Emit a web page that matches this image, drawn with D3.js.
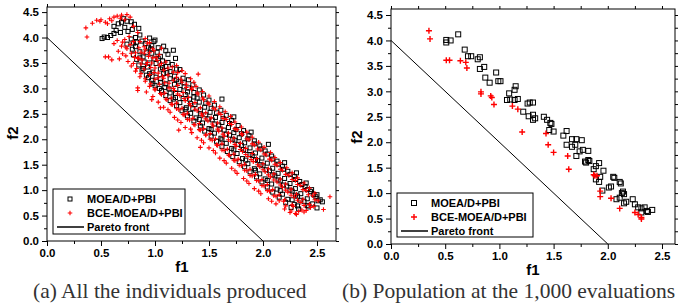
<!DOCTYPE html>
<html>
<head>
<meta charset="utf-8">
<script src="https://cdn.jsdelivr.net/npm/d3@7"></script>
<style>
  body { margin: 0; background: #fff; }
  svg { display: block; }
  .tick text { font-family: "Liberation Sans", Arial, sans-serif; font-weight: bold; font-size: 11.5px; fill: #000; }
  .lbl { font-family: "Liberation Sans", Arial, sans-serif; font-weight: bold; }
  .cap { font-family: "Liberation Serif", "Times New Roman", serif; font-size: 21.5px; fill: #333; }
</style>
</head>
<body>
<svg id="chart"></svg>
<script>
const xMajor = [0, 0.5, 1.0, 1.5, 2.0, 2.5];
const xMinor = [0.25, 0.75, 1.25, 1.75, 2.25];
const yMajor = [0, 0.5, 1.0, 1.5, 2.0, 2.5, 3.0, 3.5, 4.0, 4.5];
const yMinor = [0.25, 0.75, 1.25, 1.75, 2.25, 2.75, 3.25, 3.75, 4.25];
const seriesNames = ["MOEA/D+PBI", "BCE-MOEA/D+PBI", "Pareto front"];
const captions = ["(a) All the individuals produced", "(b) Population at the 1,000 evaluations"];
const paretoFront = [[0, 4], [2, 0]];

// (a) all individuals, MOEA/D+PBI
const allMoea = [
  [0.51,3.98],[0.53,4.01],[0.56,4.00],[0.59,4.04],[0.62,4.08],[0.64,4.14],[0.62,4.22],[0.66,4.27],[0.71,4.37],[0.69,4.30],
  [0.74,4.32],[0.78,4.31],[0.81,4.26],[0.85,4.18],[0.86,4.05],[0.72,4.20],[0.75,4.12],[0.79,4.16],[0.82,4.00],[0.68,4.10],
  [0.78,3.97],[0.88,3.93],[0.95,3.99],[0.83,3.91],[1.00,3.95],[0.80,3.89],[0.99,3.92],
  [0.74,3.87],[0.82,3.82],[0.91,3.88],[0.97,3.84],[1.03,3.80],[0.94,3.81],[1.08,3.83],
  [0.79,3.77],[0.86,3.72],[0.96,3.78],[1.02,3.71],[1.17,3.75],[0.92,3.70],[1.10,3.74],
  [0.80,3.66],[0.89,3.62],[0.97,3.69],[1.05,3.63],[1.12,3.67],[0.86,3.60],[1.03,3.59],
  [0.83,3.57],[0.90,3.52],[0.99,3.58],[1.07,3.54],[1.19,3.59],[0.95,3.50],[1.12,3.51],
  [0.85,3.46],[0.93,3.42],[1.01,3.49],[1.10,3.43],[1.16,3.47],[0.89,3.39],[1.07,3.41],[1.20,3.38],
  [0.88,3.36],[0.98,3.32],[1.05,3.38],[1.14,3.33],[1.23,3.37],[0.95,3.29],[1.11,3.31],
  [0.92,3.26],[1.01,3.22],[1.08,3.29],[1.18,3.24],[1.26,3.20],[1.05,3.19],[1.20,3.17],[0.94,3.21],
  [0.97,3.16],[1.05,3.12],[1.14,3.19],[1.22,3.13],[1.31,3.17],[1.10,3.09],[1.27,3.11],
  [1.00,3.06],[1.09,3.02],[1.18,3.08],[1.27,3.03],[1.35,3.07],[0.98,3.10],[1.13,2.99],[1.31,3.01],[1.04,3.00],
  [1.06,2.96],[1.14,2.91],[1.23,2.98],[1.30,2.93],[1.41,2.97],[1.19,2.90],[1.36,2.92],
  [1.10,2.86],[1.19,2.82],[1.28,2.88],[1.36,2.83],[1.45,2.87],[1.26,2.80],[1.39,2.81],[1.17,2.79],
  [1.14,2.76],[1.23,2.72],[1.32,2.79],[1.41,2.73],[1.50,2.77],[1.62,2.79],[1.33,2.70],[1.47,2.71],
  [1.20,2.66],[1.29,2.62],[1.37,2.68],[1.46,2.63],[1.55,2.67],[1.35,2.60],[1.52,2.61],[1.28,2.59],
  [1.25,2.56],[1.33,2.51],[1.42,2.58],[1.51,2.53],[1.61,2.57],[1.42,2.50],[1.57,2.52],
  [1.30,2.46],[1.38,2.42],[1.47,2.48],[1.56,2.43],[1.66,2.47],[1.73,2.44],[1.49,2.40],[1.63,2.41],[1.41,2.39],
  [1.36,2.36],[1.44,2.32],[1.53,2.38],[1.62,2.33],[1.71,2.37],[1.55,2.30],[1.69,2.31],
  [1.42,2.26],[1.50,2.21],[1.59,2.28],[1.68,2.23],[1.77,2.27],[1.60,2.20],[1.75,2.19],[1.52,2.19],
  [1.46,2.16],[1.55,2.12],[1.64,2.18],[1.73,2.13],[1.82,2.17],[1.89,2.14],[1.66,2.10],[1.80,2.11],
  [1.52,2.06],[1.61,2.02],[1.69,2.08],[1.78,2.03],[1.87,2.07],[1.72,2.00],[1.86,2.01],[1.62,1.99],
  [1.57,1.96],[1.66,1.92],[1.74,1.98],[1.83,1.93],[1.92,1.97],[1.77,1.90],[1.92,1.91],
  [1.62,1.86],[1.71,1.82],[1.80,1.88],[1.88,1.83],[1.97,1.87],[2.05,1.90],[1.82,1.80],[1.98,1.81],[1.73,1.79],
  [1.67,1.76],[1.76,1.72],[1.84,1.78],[1.93,1.73],[2.02,1.77],[1.88,1.70],[2.04,1.71],
  [1.72,1.66],[1.81,1.62],[1.90,1.68],[1.99,1.63],[2.08,1.67],[1.93,1.60],[2.09,1.61],[1.84,1.59],
  [1.78,1.56],[1.86,1.52],[1.95,1.58],[2.04,1.53],[2.13,1.57],[2.20,1.54],[1.98,1.50],[2.14,1.51],
  [1.83,1.46],[1.92,1.42],[2.00,1.48],[2.09,1.43],[2.18,1.47],[2.03,1.40],[2.19,1.41],[1.93,1.39],
  [1.88,1.36],[1.97,1.32],[2.06,1.38],[2.14,1.33],[2.23,1.37],[2.31,1.34],[2.09,1.30],[2.25,1.31],
  [1.94,1.26],[2.02,1.22],[2.11,1.28],[2.20,1.23],[2.29,1.27],[2.14,1.20],[2.30,1.21],[2.04,1.19],
  [1.99,1.16],[2.08,1.12],[2.16,1.18],[2.25,1.13],[2.34,1.17],[2.40,1.14],[2.19,1.10],[2.36,1.11],
  [2.04,1.06],[2.13,1.02],[2.22,1.08],[2.30,1.03],[2.39,1.07],[2.45,1.01],[2.25,1.00],[2.41,1.01],[2.16,0.99],
  [2.09,0.96],[2.18,0.92],[2.27,0.98],[2.35,0.93],[2.44,0.97],[2.50,0.91],[2.30,0.90],[2.47,0.91],
  [2.15,0.86],[2.23,0.82],[2.32,0.88],[2.41,0.83],[2.49,0.87],[2.53,0.81],[2.35,0.80],[2.51,0.79],[2.27,0.81],
  [2.21,0.76],[2.29,0.72],[2.38,0.78],[2.46,0.73],[2.55,0.77],[2.41,0.70],[2.32,0.69],
  [2.26,0.66],[2.33,0.63],[2.42,0.67],[2.50,0.65]
];

// (a) all individuals, BCE-MOEA/D+PBI
const allBce = [
  [0.36,4.19],[0.37,4.01],[0.42,4.28],[0.46,4.34],[0.49,4.32],[0.50,4.35],[0.54,4.30],[0.58,4.37],[0.62,4.40],[0.65,4.42],
  [0.69,4.44],[0.74,4.45],[0.77,4.40],[0.72,4.35],[0.68,4.38],[0.60,4.33],[0.56,4.27],[0.80,4.22],[0.84,4.10],[0.76,4.02],
  [0.57,3.62],[0.54,3.62],
  [0.72,3.96],[0.80,3.92],[0.91,3.98],[0.65,3.94],[0.70,3.91],[0.86,3.92],[0.95,3.90],
  [0.69,3.83],[0.77,3.86],[0.85,3.80],[0.93,3.89],[0.98,3.78],[0.62,3.88],[0.73,3.81],[0.90,3.82],
  [0.66,3.73],[0.74,3.78],[0.82,3.70],[0.91,3.76],[0.99,3.74],[1.06,3.79],[0.87,3.71],[0.78,3.69],[0.95,3.70],[0.70,3.68],
  [0.73,3.64],[0.81,3.61],[0.90,3.69],[0.98,3.60],[1.04,3.66],[0.94,3.63],[0.85,3.59],[1.01,3.61],[0.67,3.58],
  [0.60,3.56],[0.75,3.53],[0.84,3.59],[0.93,3.51],[1.02,3.55],[1.10,3.52],[0.88,3.56],[0.80,3.49],[0.97,3.50],[1.06,3.49],
  [0.78,3.44],[0.87,3.48],[0.96,3.41],[1.04,3.46],[1.12,3.40],[1.20,3.45],[0.92,3.47],[0.83,3.39],[1.00,3.40],[1.16,3.42],
  [0.82,3.34],[0.90,3.38],[0.99,3.31],[1.08,3.36],[1.17,3.32],[1.25,3.35],[1.40,3.28],[0.87,3.29],[1.03,3.30],[1.21,3.31],
  [0.86,3.23],[0.95,3.27],[1.03,3.21],[1.12,3.26],[1.20,3.22],[1.28,3.29],[1.07,3.24],[0.91,3.19],[1.08,3.20],[1.24,3.18],
  [0.91,3.14],[1.00,3.18],[1.09,3.11],[1.17,3.16],[1.25,3.12],[1.33,3.19],[1.36,3.12],[0.96,3.09],[1.13,3.10],[1.29,3.08],
  [0.84,3.01],[0.84,2.96],[0.95,3.04],[1.04,3.08],[1.13,3.01],[1.21,3.06],[1.29,3.02],[1.38,3.04],[1.00,2.99],[1.17,3.00],[1.34,3.01],
  [0.92,2.93],[1.00,2.97],[1.09,2.91],[1.18,2.96],[1.26,2.92],[1.34,2.98],[1.44,2.94],[1.05,2.90],[1.21,2.89],[1.39,2.91],
  [0.98,2.84],[1.06,2.88],[1.15,2.81],[1.23,2.86],[1.31,2.82],[1.40,2.89],[1.50,2.85],[1.10,2.79],[1.27,2.80],[1.44,2.81],[0.97,2.78],
  [1.03,2.73],[1.11,2.78],[1.20,2.71],[1.28,2.76],[1.37,2.72],[1.45,2.78],[1.55,2.74],[1.05,2.62],[1.15,2.69],[1.32,2.70],[1.49,2.71],
  [1.08,2.63],[1.16,2.68],[1.25,2.61],[1.33,2.66],[1.42,2.62],[1.50,2.69],[1.60,2.64],[1.20,2.60],[1.37,2.59],[1.54,2.61],[1.12,2.58],
  [1.14,2.53],[1.22,2.58],[1.30,2.51],[1.39,2.56],[1.47,2.52],[1.56,2.59],[1.65,2.54],[1.26,2.49],[1.43,2.50],[1.59,2.51],
  [1.18,2.43],[1.27,2.48],[1.35,2.41],[1.44,2.46],[1.52,2.42],[1.61,2.49],[1.70,2.45],[1.30,2.39],[1.47,2.40],[1.63,2.41],[1.21,2.38],
  [1.24,2.33],[1.32,2.38],[1.41,2.31],[1.49,2.36],[1.58,2.32],[1.66,2.39],[1.74,2.34],[1.36,2.29],[1.53,2.30],[1.69,2.31],
  [1.28,2.23],[1.37,2.28],[1.45,2.21],[1.54,2.26],[1.62,2.22],[1.71,2.29],[1.80,2.24],[1.22,2.18],[1.41,2.19],[1.58,2.20],[1.74,2.21],[1.33,2.20],
  [1.34,2.13],[1.42,2.18],[1.51,2.11],[1.59,2.16],[1.68,2.12],[1.76,2.19],[1.85,2.14],[1.47,2.09],[1.63,2.10],[1.80,2.11],
  [1.39,2.03],[1.47,2.08],[1.56,2.01],[1.64,2.06],[1.73,2.02],[1.81,2.09],[1.90,2.04],[1.51,2.00],[1.68,1.99],[1.85,2.01],[1.43,1.98],
  [1.45,1.93],[1.53,1.98],[1.62,1.91],[1.70,1.96],[1.79,1.92],[1.87,1.99],[1.96,1.94],[1.42,1.84],[1.57,1.89],[1.74,1.90],[1.90,1.91],
  [1.50,1.83],[1.58,1.88],[1.67,1.81],[1.75,1.86],[1.84,1.82],[1.92,1.89],[2.01,1.84],[1.62,1.79],[1.79,1.80],[1.95,1.81],[1.54,1.78],
  [1.56,1.73],[1.64,1.78],[1.73,1.71],[1.81,1.76],[1.90,1.72],[1.98,1.79],[2.07,1.74],[1.68,1.69],[1.84,1.70],[2.01,1.71],
  [1.60,1.63],[1.69,1.68],[1.77,1.61],[1.86,1.66],[1.94,1.62],[2.03,1.69],[2.11,1.64],[1.73,1.59],[1.89,1.60],[2.06,1.61],[1.64,1.58],
  [1.66,1.53],[1.74,1.58],[1.83,1.51],[1.91,1.56],[2.00,1.52],[2.08,1.59],[2.16,1.54],[1.78,1.49],[1.95,1.50],[2.11,1.51],
  [1.71,1.43],[1.80,1.48],[1.88,1.41],[1.97,1.46],[2.05,1.42],[2.13,1.49],[2.22,1.44],[1.83,1.39],[2.00,1.40],[2.16,1.41],[1.74,1.38],
  [1.76,1.33],[1.85,1.38],[1.93,1.31],[2.02,1.36],[2.10,1.32],[2.18,1.39],[2.27,1.34],[1.88,1.29],[2.05,1.30],[2.21,1.31],
  [1.82,1.23],[1.90,1.28],[1.99,1.21],[2.07,1.26],[2.16,1.22],[2.24,1.29],[2.32,1.24],[1.94,1.19],[2.10,1.20],[2.27,1.21],[1.85,1.18],
  [1.87,1.13],[1.96,1.18],[2.04,1.11],[2.13,1.16],[2.21,1.12],[2.30,1.19],[2.38,1.14],[1.99,1.09],[2.16,1.10],[2.32,1.11],
  [1.92,1.03],[2.01,1.08],[2.09,1.01],[2.18,1.06],[2.26,1.02],[2.35,1.09],[2.43,1.04],[2.04,0.99],[2.21,1.00],[2.37,1.01],[1.96,0.98],
  [1.98,0.93],[2.06,0.98],[2.15,0.91],[2.23,0.96],[2.31,0.92],[2.40,0.99],[2.48,0.94],[2.10,0.89],[2.26,0.90],[2.42,0.91],
  [2.05,0.83],[2.12,0.88],[2.20,0.81],[2.29,0.86],[2.37,0.82],[2.46,0.89],[2.62,0.87],[2.15,0.79],[2.32,0.80],[2.48,0.81],[2.08,0.78],
  [2.12,0.73],[2.19,0.78],[2.27,0.71],[2.35,0.76],[2.43,0.72],[2.51,0.79],[2.21,0.69],[2.38,0.70],[2.47,0.68],
  [2.20,0.63],[2.28,0.68],[2.36,0.61],[2.44,0.66],[2.56,0.62],[2.26,0.59],[2.40,0.60],[2.33,0.58],
  [2.25,0.56],[2.31,0.52],[2.38,0.57],[2.30,0.54]
];

// (b) population at 1,000 evaluations, MOEA/D+PBI
const popMoea = [
  [0.51,4.01],[0.51,3.96],[0.55,4.00],[0.62,4.12],[0.68,3.82],[0.71,3.69],[0.74,3.69],[0.80,3.63],[0.82,3.67],[0.82,3.44],
  [0.86,3.48],[0.87,3.27],[0.91,3.17],[0.97,3.37],[0.99,3.20],[1.01,3.20],[1.09,2.96],[1.15,3.10],[1.14,3.03],[1.07,2.83],
  [1.10,2.84],[1.14,2.83],[1.17,2.85],[1.22,2.60],[1.26,2.76],[1.28,2.78],[1.31,2.78],[1.27,2.51],[1.31,2.54],[1.33,2.47],
  [1.31,2.44],[1.41,2.50],[1.44,2.44],[1.47,2.38],[1.48,2.36],[1.46,2.24],[1.50,2.21],[1.59,2.13],[1.62,2.22],[1.62,1.95],
  [1.67,1.91],[1.70,1.95],[1.67,2.06],[1.71,2.06],[1.76,2.04],[1.77,1.85],[1.82,1.83],[1.71,1.73],[1.74,1.82],[1.79,1.62],
  [1.80,1.60],[1.82,1.65],[1.83,1.63],[1.89,1.53],[1.87,1.47],[1.92,1.59],[1.96,1.44],[1.89,1.27],[1.93,1.32],[1.92,1.22],
  [1.95,1.05],[2.01,1.11],[2.03,1.13],[2.05,1.32],[2.06,1.30],[2.11,1.22],[2.12,1.19],[2.13,1.00],[2.14,1.03],[2.15,0.98],
  [2.15,0.80],[2.17,0.83],[2.08,0.88],[2.11,0.91],[2.23,0.88],[2.25,0.78],[2.28,0.72],[2.31,0.70],[2.31,0.62],[2.36,0.65],
  [2.37,0.63],[2.41,0.67],[2.34,0.72]
];

// (b) population at 1,000 evaluations, BCE-MOEA/D+PBI
const popBce = [
  [0.35,4.19],[0.36,4.03],[0.51,3.61],[0.54,3.61],[0.64,3.60],[0.69,3.57],[0.70,3.46],[0.83,2.99],[0.83,2.95],[0.92,2.91],
  [0.93,2.88],[0.95,2.74],[1.12,2.71],[1.17,2.65],[1.21,2.20],[1.43,2.17],[1.45,1.95],[1.50,1.80],[1.63,1.73],[1.64,1.47],
  [1.87,1.36],[1.88,1.34],[1.90,1.34],[1.93,1.04],[1.93,0.93],[2.03,0.90],[2.11,0.70],[2.25,0.62],[2.28,0.58],[2.31,0.52],
  [2.31,0.49]
];

const panels = [
  { left: 47, right: 336, top: 7, bottom: 241, xMax: 2.676, yMax: 4.6,
    moea: allMoea, bce: allBce, sq: 4, cr: 2.3, crW: 1.1,
    legend: { x: 53, y: 189, w: 132, h: 45 }, f1: [182, 272], f2: [18, 133], cap: 33 },
  { left: 391, right: 675, top: 9, bottom: 244, xMax: 2.62, yMax: 4.618,
    moea: popMoea, bce: popBce, sq: 5, cr: 3, crW: 1.4,
    legend: { x: 397, y: 193, w: 136, h: 44 }, f1: [533, 275], f2: [362, 137], cap: 342 }
];

const svg = d3.select("#chart").attr("width", 679).attr("height", 308);

panels.forEach((p, i) => {
  const x = d3.scaleLinear().domain([0, p.xMax]).range([p.left, p.right]);
  const y = d3.scaleLinear().domain([0, p.yMax]).range([p.bottom, p.top]);
  const g = svg.append("g");

  // minor ticks
  g.append("g").attr("transform", `translate(0,${p.bottom})`)
    .call(d3.axisBottom(x).tickValues(xMinor).tickSize(3).tickFormat(""));
  g.append("g").attr("transform", `translate(${p.left},0)`)
    .call(d3.axisLeft(y).tickValues(yMinor).tickSize(3).tickFormat(""));
  g.append("g").attr("transform", `translate(0,${p.top})`)
    .call(d3.axisTop(x).tickValues(xMajor.concat(xMinor)).tickSize(3).tickFormat(""));
  g.append("g").attr("transform", `translate(${p.right},0)`)
    .call(d3.axisRight(y).tickValues(yMajor.concat(yMinor)).tickSize(3).tickFormat(""));

  // major ticks with labels
  g.append("g").attr("transform", `translate(0,${p.bottom})`)
    .call(d3.axisBottom(x).tickValues(xMajor).tickSize(5).tickPadding(3).tickFormat(d3.format(".1f")));
  g.append("g").attr("transform", `translate(${p.left},0)`)
    .call(d3.axisLeft(y).tickValues(yMajor).tickSize(5).tickPadding(3).tickFormat(d3.format(".1f")));

  g.selectAll(".domain").remove();
  g.selectAll(".tick line").attr("stroke", "#000");

  g.append("rect")
    .attr("x", p.left).attr("y", p.top)
    .attr("width", p.right - p.left).attr("height", p.bottom - p.top)
    .attr("fill", "none").attr("stroke", "#000").attr("stroke-width", 1);

  // pareto front
  g.append("path")
    .datum(paretoFront)
    .attr("d", d3.line().x(d => x(d[0])).y(d => y(d[1])))
    .attr("fill", "none").attr("stroke", "#000").attr("stroke-width", 1);

  g.selectAll(".sq")
    .data(p.moea)
    .enter()
    .append("rect")
    .attr("class", "sq")
    .attr("x", d => x(d[0]) - p.sq / 2)
    .attr("y", d => y(d[1]) - p.sq / 2)
    .attr("width", p.sq).attr("height", p.sq)
    .attr("fill", "none").attr("stroke", "#000").attr("stroke-width", 1);

  const c = p.cr;
  g.selectAll(".cr")
    .data(p.bce)
    .enter()
    .append("path")
    .attr("class", "cr")
    .attr("transform", d => `translate(${x(d[0])},${y(d[1])})`)
    .attr("d", `M${-c},0H${c}M0,${-c}V${c}`)
    .attr("stroke", "#f00").attr("stroke-width", p.crW);

  // axis titles
  g.append("text").attr("class", "lbl")
    .attr("x", p.f1[0]).attr("y", p.f1[1])
    .attr("text-anchor", "middle").attr("font-size", 15)
    .text("f1");
  g.append("text").attr("class", "lbl")
    .attr("transform", `translate(${p.f2[0]},${p.f2[1]}) rotate(-90)`)
    .attr("text-anchor", "middle").attr("font-size", 15)
    .text("f2");

  // legend
  const L = p.legend;
  const lg = g.append("g");
  lg.append("rect")
    .attr("x", L.x).attr("y", L.y).attr("width", L.w).attr("height", L.h)
    .attr("fill", "#fff").attr("stroke", "#000").attr("stroke-width", 1);
  const rowY = [L.y + 10, L.y + 24, L.y + 38];
  const symX = L.x + 17;
  const textX = L.x + 34;
  lg.append("rect")
    .attr("x", symX - p.sq / 2).attr("y", rowY[0] - p.sq / 2)
    .attr("width", p.sq).attr("height", p.sq)
    .attr("fill", "none").attr("stroke", "#000");
  lg.append("path")
    .attr("transform", `translate(${symX},${rowY[1]})`)
    .attr("d", `M${-c},0H${c}M0,${-c}V${c}`)
    .attr("stroke", "#f00").attr("stroke-width", p.crW);
  lg.append("line")
    .attr("x1", L.x + 4).attr("x2", L.x + 31)
    .attr("y1", rowY[2]).attr("y2", rowY[2])
    .attr("stroke", "#000").attr("stroke-width", 1.5);
  seriesNames.forEach((name, k) => {
    lg.append("text").attr("class", "lbl")
      .attr("x", textX).attr("y", rowY[k] + 4)
      .attr("font-size", 11)
      .text(name);
  });

  svg.append("text").attr("class", "cap")
    .attr("x", p.cap).attr("y", 298)
    .text(captions[i]);
});
</script>
</body>
</html>
